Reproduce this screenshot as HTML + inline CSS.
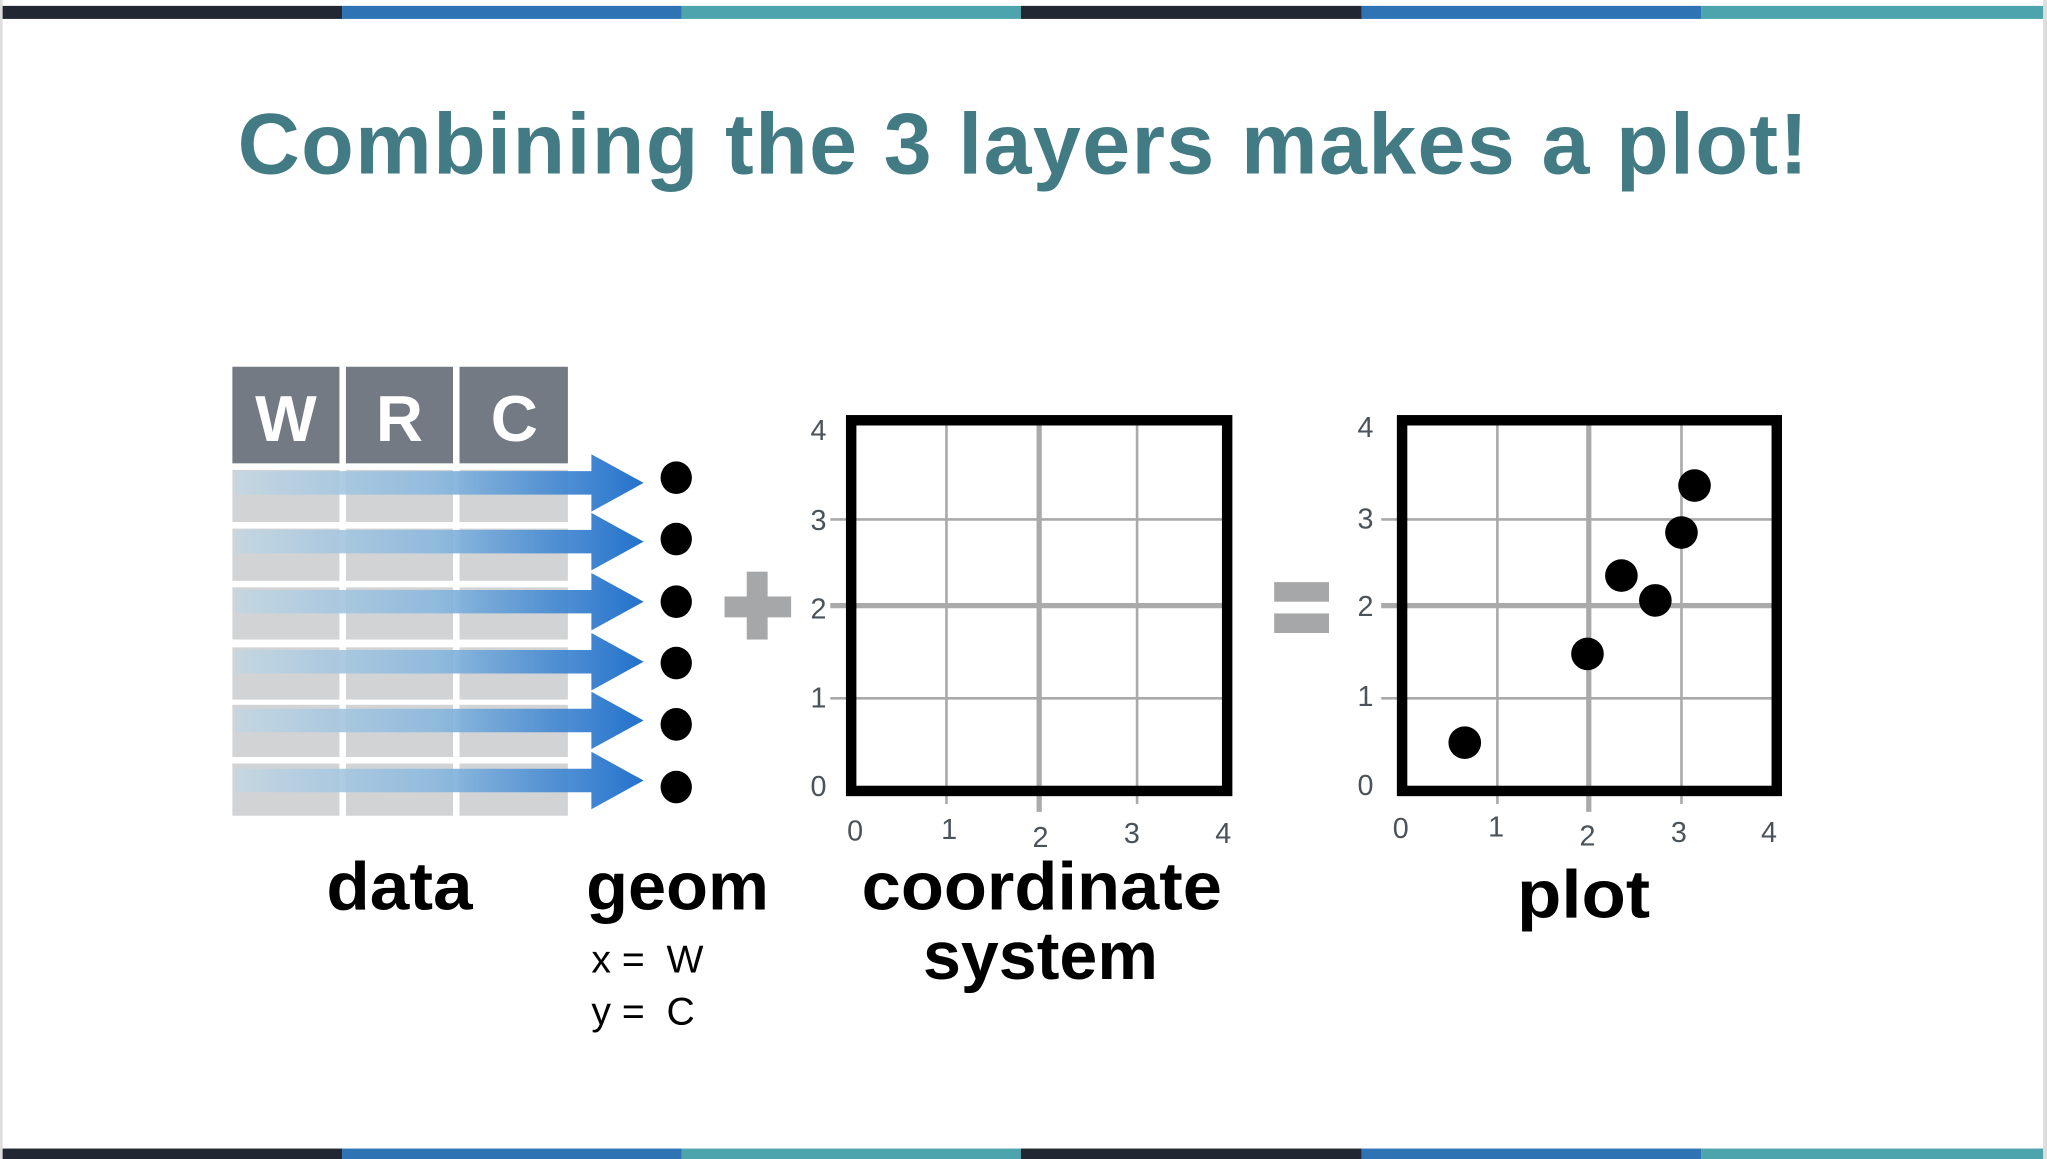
<!DOCTYPE html>
<html><head><meta charset="utf-8"><style>
html,body{margin:0;padding:0;background:#fff;}
svg{display:block;}
</style></head><body>
<svg width="2047" height="1159" viewBox="0 0 1568 888" preserveAspectRatio="none" xmlns="http://www.w3.org/2000/svg">
<defs>
<linearGradient id="ag" x1="180" y1="0" x2="493" y2="0" gradientUnits="userSpaceOnUse">
<stop offset="0" stop-color="#c5d7e2"/>
<stop offset="0.5" stop-color="#8ab8de"/>
<stop offset="1" stop-color="#1166c8"/>
</linearGradient>
</defs>
<rect x="0" y="0" width="1568" height="888" fill="#fff"/>
<rect x="0" y="0" width="2" height="888" fill="#ddd"/>
<rect x="1565" y="0" width="3" height="888" fill="#ddd"/>
<g>
<rect x="2" y="4.5" width="260" height="10" fill="#212833"/>
<rect x="262" y="4.5" width="260" height="10" fill="#2e74b5"/>
<rect x="522" y="4.5" width="260" height="10" fill="#4da4ad"/>
<rect x="782" y="4.5" width="261" height="10" fill="#212833"/>
<rect x="1043" y="4.5" width="260" height="10" fill="#2e74b5"/>
<rect x="1303" y="4.5" width="262" height="10" fill="#4da4ad"/>
<rect x="2" y="880" width="260" height="8" fill="#212833"/>
<rect x="262" y="880" width="260" height="8" fill="#2e74b5"/>
<rect x="522" y="880" width="260" height="8" fill="#4da4ad"/>
<rect x="782" y="880" width="261" height="8" fill="#212833"/>
<rect x="1043" y="880" width="260" height="8" fill="#2e74b5"/>
<rect x="1303" y="880" width="262" height="8" fill="#4da4ad"/>
</g>
<text x="182" y="133" textLength="1203" lengthAdjust="spacing" font-family="Liberation Sans, sans-serif" font-weight="bold" font-size="66" fill="#427b84">Combining the 3 layers makes a plot!</text>

<g fill="#737a84">
<rect x="178" y="281" width="82" height="74"/>
<rect x="265" y="281" width="82" height="74"/>
<rect x="352" y="281" width="83" height="74"/>
</g>
<g font-family="Liberation Sans, sans-serif" font-weight="bold" font-size="50" fill="#fff" text-anchor="middle">
<text x="219" y="338">W</text><text x="306" y="338">R</text><text x="394" y="338">C</text>
</g>
<g fill="#d2d3d5">
<rect x="178" y="360" width="82" height="40"/><rect x="265" y="360" width="82" height="40"/><rect x="352" y="360" width="83" height="40"/>
<rect x="178" y="405" width="82" height="40"/><rect x="265" y="405" width="82" height="40"/><rect x="352" y="405" width="83" height="40"/>
<rect x="178" y="450" width="82" height="40"/><rect x="265" y="450" width="82" height="40"/><rect x="352" y="450" width="83" height="40"/>
<rect x="178" y="496" width="82" height="40"/><rect x="265" y="496" width="82" height="40"/><rect x="352" y="496" width="83" height="40"/>
<rect x="178" y="540" width="82" height="40"/><rect x="265" y="540" width="82" height="40"/><rect x="352" y="540" width="83" height="40"/>
<rect x="178" y="585" width="82" height="40"/><rect x="265" y="585" width="82" height="40"/><rect x="352" y="585" width="83" height="40"/>
</g>
<g fill="url(#ag)" opacity="0.92">
<path d="M180 361 H453 V348 L493 370 L453 392 V379 H180 Z"/>
<path d="M180 406 H453 V393 L493 415 L453 437 V424 H180 Z"/>
<path d="M180 452 H453 V439 L493 461 L453 483 V470 H180 Z"/>
<path d="M180 498 H453 V485 L493 507 L453 529 V516 H180 Z"/>
<path d="M180 543 H453 V530 L493 552 L453 574 V561 H180 Z"/>
<path d="M180 589 H453 V576 L493 598 L453 620 V607 H180 Z"/>
</g>
<g fill="#000">
<ellipse cx="518" cy="366" rx="12" ry="12.5"/>
<ellipse cx="518" cy="413" rx="12" ry="12.5"/>
<ellipse cx="518" cy="461" rx="12" ry="12.5"/>
<ellipse cx="518" cy="508" rx="12" ry="12.5"/>
<ellipse cx="518" cy="555" rx="12" ry="12.5"/>
<ellipse cx="518" cy="603" rx="12" ry="12.5"/>
</g>
<g fill="#a6a7a8">
<rect x="555" y="457" width="51" height="16"/>
<rect x="572" y="438" width="16" height="52"/>
</g>
<g fill="#a6a7a8">
<rect x="976" y="446" width="42" height="15"/>
<rect x="976" y="470" width="42" height="15"/>
</g>

<g stroke="#aaa">
<line x1="725" y1="322" x2="725" y2="616" stroke-width="2"/>
<line x1="796" y1="322" x2="796" y2="622" stroke-width="4"/>
<line x1="871" y1="322" x2="871" y2="616" stroke-width="2"/>
<line x1="636" y1="398" x2="940" y2="398" stroke-width="2"/>
<line x1="636" y1="464" x2="940" y2="464" stroke-width="4"/>
<line x1="636" y1="535" x2="940" y2="535" stroke-width="2"/>
</g>
<rect x="652" y="322" width="288" height="284" fill="none" stroke="#000" stroke-width="8"/>
<g font-family="Liberation Sans, sans-serif" font-size="22" fill="#4a525a" text-anchor="middle">
<text x="627" y="337">4</text><text x="627" y="406">3</text><text x="627" y="474">2</text><text x="627" y="542">1</text><text x="627" y="610">0</text>
<text x="655" y="644">0</text><text x="727" y="643">1</text><text x="797" y="649">2</text><text x="867" y="646">3</text><text x="937" y="646">4</text>
</g>

<g stroke="#aaa">
<line x1="1147" y1="322" x2="1147" y2="616" stroke-width="2"/>
<line x1="1217" y1="322" x2="1217" y2="622" stroke-width="4"/>
<line x1="1288" y1="322" x2="1288" y2="616" stroke-width="2"/>
<line x1="1058" y1="398" x2="1361" y2="398" stroke-width="2"/>
<line x1="1058" y1="464" x2="1361" y2="464" stroke-width="4"/>
<line x1="1058" y1="535" x2="1361" y2="535" stroke-width="2"/>
</g>
<rect x="1074" y="322" width="287" height="284" fill="none" stroke="#000" stroke-width="8"/>
<g fill="#000">
<circle cx="1122" cy="569" r="12.5"/>
<circle cx="1216" cy="501" r="12.5"/>
<circle cx="1242" cy="441" r="12.5"/>
<circle cx="1268" cy="460" r="12.5"/>
<circle cx="1288" cy="408" r="12.5"/>
<circle cx="1298" cy="372" r="12.5"/>
</g>
<g font-family="Liberation Sans, sans-serif" font-size="22" fill="#4a525a" text-anchor="middle">
<text x="1046" y="335">4</text><text x="1046" y="405">3</text><text x="1046" y="472">2</text><text x="1046" y="541">1</text><text x="1046" y="609">0</text>
<text x="1073" y="642">0</text><text x="1146" y="641">1</text><text x="1216" y="648">2</text><text x="1286" y="645">3</text><text x="1355" y="645">4</text>
</g>

<g font-family="Liberation Sans, sans-serif" font-weight="bold" font-size="52" fill="#000" text-anchor="middle">
<text x="306" y="697" textLength="112" lengthAdjust="spacingAndGlyphs">data</text>
<text x="519" y="697" textLength="140" lengthAdjust="spacingAndGlyphs">geom</text>
<text x="798" y="697" textLength="276" lengthAdjust="spacingAndGlyphs">coordinate</text>
<text x="797" y="750" textLength="180" lengthAdjust="spacingAndGlyphs">system</text>
<text x="1213" y="703" textLength="102" lengthAdjust="spacingAndGlyphs">plot</text>
</g>
<g font-family="Liberation Sans, sans-serif" font-size="30" fill="#000">
<text x="453" y="745" xml:space="preserve">x =  W</text>
<text x="453" y="785" xml:space="preserve">y =  C</text>
</g>
</svg>
</body></html>
